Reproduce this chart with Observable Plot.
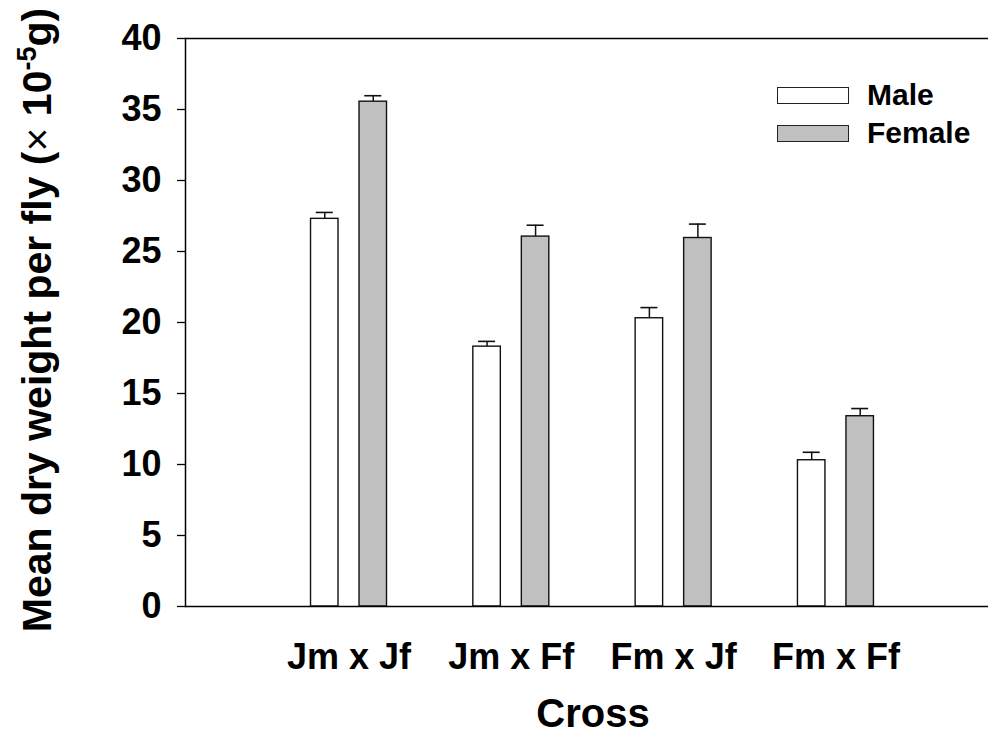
<!DOCTYPE html>
<html>
<head>
<meta charset="utf-8">
<script src="https://cdn.jsdelivr.net/npm/d3@7"></script>
<script src="https://cdn.jsdelivr.net/npm/@observablehq/plot@0.6"></script>
<style>
  html, body { margin: 0; padding: 0; background: #fff; }
  #chart { position: relative; width: 988px; height: 737px; font-family: "Liberation Sans", Arial, Helvetica, sans-serif; }
  .legend { position: absolute; left: 777px; top: 76px; font-weight: bold; font-size: 30px; color: #000; }
  .legend .row { display: flex; align-items: center; height: 38px; }
  .legend .swatch { width: 70px; height: 15px; border: 1.3px solid #222; margin-right: 18px; }
</style>
</head>
<body>
<div id="chart"></div>
<script>
// Crosses (male parent x female parent) and mean dry weight per fly, x 10^-5 g
const crosses = ["Jm x Jf", "Jm x Ff", "Fm x Jf", "Fm x Ff"];
const maleMean = [27.3, 18.3, 20.3, 10.3];
const maleSE = [0.45, 0.37, 0.75, 0.56];
const femaleMean = [35.55, 26.05, 25.95, 13.4];
const femaleSE = [0.42, 0.8, 0.98, 0.54];
const yTicks = [0, 5, 10, 15, 20, 25, 30, 35, 40];
const seriesNames = ["Male", "Female"];
const seriesFills = ["#ffffff", "#c0c0c0"];

const male = crosses.map((cross, i) => ({cross, mean: maleMean[i], se: maleSE[i]}));
const female = crosses.map((cross, i) => ({cross, mean: femaleMean[i], se: femaleSE[i]}));

const fontFamily = "'Liberation Sans', Arial, Helvetica, sans-serif";
const shift = 24.25; // half the distance between the paired bars
const capInset = 5.25;

function series(data, fill, dx) {
  return [
    Plot.ruleX(data, {x: "cross", y1: "mean", y2: d => d.mean + d.se, dx, stroke: "#111", strokeWidth: 1.5}),
    Plot.tickY(data, {x: "cross", y: d => d.mean + d.se, dx, insetLeft: capInset, insetRight: capInset, stroke: "#111", strokeWidth: 1.6}),
    Plot.barY(data, {x: "cross", y: "mean", dx, fill, stroke: "#111", strokeWidth: 1.4})
  ];
}

const chart = Plot.plot({
  width: 988,
  height: 737,
  marginLeft: 185,
  marginRight: 0,
  marginTop: 38,
  marginBottom: 131,
  style: {fontFamily, fontWeight: "bold", background: "#fff", color: "#000", overflow: "visible"},
  x: {domain: crosses, paddingInner: 0.8306, paddingOuter: 0.889, align: 0.519, round: false},
  y: {domain: [0, 40]},
  marks: [
    ...series(male, seriesFills[0], -shift),
    ...series(female, seriesFills[1], shift),
    Plot.ruleY([0, 40], {stroke: "#000", strokeWidth: 1.5}),
    Plot.frame({anchor: "left", stroke: "#000", strokeWidth: 1.5}),
    Plot.axisY({ticks: yTicks, tickSize: 8, tickPadding: 16, fontSize: 36, fontWeight: "bold", label: null, strokeWidth: 1.3}),
    Plot.axisX({tickSize: 0, tickPadding: 37, fontSize: 36, fontWeight: "bold", label: null}),
    Plot.text(["Cross"], {frameAnchor: "bottom", dy: 120, dx: 6, fontSize: 40, fontWeight: "bold"})
  ]
});

// Y-axis title with a superscript exponent
const svg = d3.select(chart);
const title = svg.append("text")
  .attr("transform", "translate(51,320) rotate(-90)")
  .attr("text-anchor", "middle")
  .attr("font-family", fontFamily)
  .attr("font-size", 41)
  .attr("font-weight", "bold")
  .attr("fill", "#000");
title.append("tspan").text("Mean dry weight per fly (");
title.append("tspan").attr("font-weight", "normal").text("\u00d7");
title.append("tspan").text(" 10");
title.append("tspan").attr("font-size", 27).attr("dy", -15).text("-5");
title.append("tspan").attr("dy", 15).text("g)");

const container = document.getElementById("chart");
container.appendChild(chart);

// Legend
const legend = d3.select(container).append("div").attr("class", "legend");
seriesNames.forEach((name, i) => {
  const row = legend.append("div").attr("class", "row");
  row.append("div").attr("class", "swatch").style("background", seriesFills[i]);
  row.append("span").text(name);
});
</script>
</body>
</html>
